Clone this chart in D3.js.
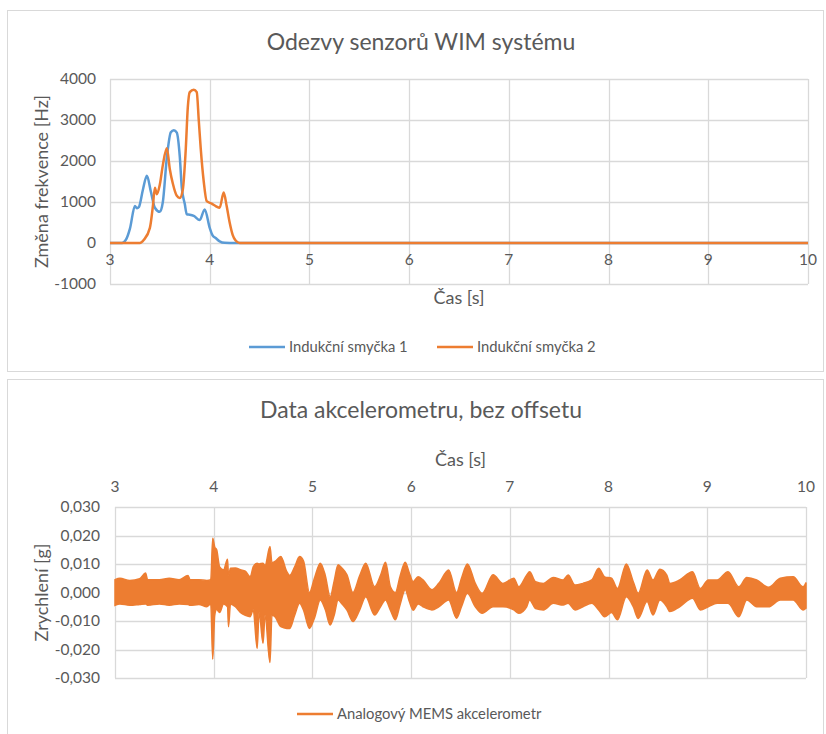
<!DOCTYPE html>
<html>
<head>
<meta charset="utf-8">
<script src="https://cdn.jsdelivr.net/npm/d3@7"></script>
<style>
  body { margin: 0; background: #fff; }
  text { font-family: Lato, "Open Sans", sans-serif; fill: #595959; }
</style>
</head>
<body>
<svg width="826" height="734"></svg>
<script>
// --- data: inductive loops (Hz) ---
const loop1Time = [3.00, 3.12, 3.16, 3.20, 3.25, 3.27, 3.29, 3.33, 3.37, 3.41, 3.45, 3.50, 3.53, 3.57, 3.61, 3.64, 3.67, 3.70, 3.72, 3.75, 3.77, 3.80, 3.84, 3.90, 3.95, 4.00, 4.03, 4.06, 4.10, 4.15, 4.25, 10.00];
const loop1Val  = [0, 0, 80, 350, 900, 850, 880, 1300, 1640, 1250, 860, 760, 1000, 2080, 2700, 2750, 2690, 2100, 1350, 950, 700, 690, 660, 560, 820, 370, 180, 120, 40, 5, 0, 0];

const loop2Time = [3.00, 3.30, 3.34, 3.40, 3.43, 3.45, 3.47, 3.50, 3.53, 3.57, 3.60, 3.63, 3.67, 3.70, 3.73, 3.76, 3.78, 3.80, 3.84, 3.87, 3.89, 3.91, 3.94, 3.97, 4.02, 4.06, 4.10, 4.14, 4.17, 4.20, 4.23, 4.26, 4.30, 10.00];
const loop2Val  = [0, 0, 80, 370, 900, 1350, 1190, 1430, 1900, 2310, 1800, 1450, 1150, 1100, 1300, 2300, 3300, 3680, 3740, 3680, 3000, 2300, 1500, 1020, 960, 900, 860, 1230, 900, 500, 200, 60, 0, 0];

const loopNames = ["Indukční smyčka 1", "Indukční smyčka 2"];
const loopTicks = [-1000, 0, 1000, 2000, 3000, 4000];

// --- data: accelerometer envelope (g) ---
const accTime = [3.00, 3.05, 3.15, 3.25, 3.31, 3.33, 3.45, 3.55, 3.65, 3.74, 3.76, 3.85, 3.93, 3.97, 3.99, 4.01, 4.03, 4.06, 4.10, 4.14, 4.15, 4.17, 4.22, 4.27, 4.32, 4.37, 4.40, 4.44, 4.46, 4.50, 4.52, 4.57, 4.59, 4.62, 4.68, 4.74, 4.77, 4.82, 4.87, 4.91, 4.97, 5.02, 5.08, 5.13, 5.18, 5.22, 5.26, 5.30, 5.35, 5.41, 5.48, 5.54, 5.63, 5.69, 5.74, 5.79, 5.84, 5.89, 5.94, 5.98, 6.02, 6.07, 6.12, 6.21, 6.28, 6.38, 6.46, 6.51, 6.57, 6.65, 6.72, 6.83, 6.93, 7.04, 7.09, 7.17, 7.20, 7.26, 7.34, 7.44, 7.54, 7.59, 7.66, 7.74, 7.83, 7.90, 7.96, 8.03, 8.09, 8.18, 8.25, 8.30, 8.39, 8.45, 8.52, 8.59, 8.62, 8.72, 8.85, 8.93, 9.01, 9.10, 9.21, 9.32, 9.40, 9.50, 9.62, 9.74, 9.87, 9.97, 10.00];
const accHigh = [0.0045, 0.0050, 0.0042, 0.0048, 0.0068, 0.0045, 0.0045, 0.0050, 0.0045, 0.0060, 0.0045, 0.0045, 0.0042, 0.0045, 0.0190, 0.0160, 0.0150, 0.0090, 0.0080, 0.0117, 0.0060, 0.0085, 0.0086, 0.0080, 0.0075, 0.0055, 0.0090, 0.0103, 0.0100, 0.0103, 0.0095, 0.0161, 0.0105, 0.0109, 0.0126, 0.0073, 0.0060, 0.0090, 0.0126, 0.0110, 0.0000, 0.0050, 0.0103, 0.0060, -0.0015, 0.0040, 0.0097, 0.0085, 0.0062, 0.0000, 0.0060, 0.0103, 0.0020, 0.0060, 0.0106, 0.0020, 0.0000, 0.0060, 0.0106, 0.0070, 0.0038, 0.0055, 0.0044, 0.0010, 0.0032, 0.0079, 0.0000, 0.0050, 0.0100, 0.0032, -0.0003, 0.0062, 0.0032, 0.0050, 0.0020, 0.0061, 0.0073, 0.0038, 0.0032, 0.0053, 0.0044, 0.0061, 0.0026, 0.0032, 0.0044, 0.0085, 0.0055, 0.0050, 0.0014, 0.0100, 0.0038, -0.0003, 0.0079, 0.0044, 0.0082, 0.0061, 0.0032, 0.0044, 0.0073, 0.0014, 0.0044, 0.0044, 0.0073, 0.0020, 0.0053, 0.0044, 0.0018, 0.0050, 0.0055, 0.0020, 0.0035];
const accLow  = [-0.0045, -0.0040, -0.0045, -0.0042, -0.0040, -0.0045, -0.0040, -0.0045, -0.0040, -0.0042, -0.0045, -0.0042, -0.0050, -0.0040, -0.0234, -0.0080, -0.0060, -0.0070, -0.0040, -0.0050, -0.0120, -0.0040, -0.0050, -0.0070, -0.0080, -0.0085, -0.0060, -0.0196, -0.0070, -0.0178, -0.0080, -0.0246, -0.0080, -0.0085, -0.0120, -0.0126, -0.0126, -0.0080, -0.0038, -0.0062, -0.0126, -0.0090, -0.0026, -0.0060, -0.0114, -0.0080, -0.0026, -0.0040, -0.0062, -0.0102, -0.0060, -0.0015, -0.0079, -0.0050, -0.0026, -0.0062, -0.0096, -0.0040, 0.0010, -0.0030, -0.0062, -0.0040, -0.0050, -0.0061, -0.0050, -0.0026, -0.0090, -0.0050, -0.0003, -0.0050, -0.0073, -0.0050, -0.0050, -0.0061, -0.0073, -0.0050, -0.0026, -0.0056, -0.0061, -0.0038, -0.0044, -0.0038, -0.0061, -0.0050, -0.0038, -0.0061, -0.0085, -0.0070, -0.0096, -0.0015, -0.0050, -0.0091, -0.0032, -0.0079, -0.0026, -0.0050, -0.0067, -0.0050, -0.0020, -0.0061, -0.0050, -0.0038, -0.0038, -0.0085, -0.0026, -0.0050, -0.0050, -0.0026, -0.0026, -0.0061, -0.0055];

const accName = "Analogový MEMS akcelerometr";
const accTicks = [-0.03, -0.02, -0.01, 0, 0.01, 0.02, 0.03];
const timeTicks = [3, 4, 5, 6, 7, 8, 9, 10];

const blue = "#5B9BD5", orange = "#ED7D31", grid = "#d9d9d9";
const cz = d3.formatLocale({ decimal: ",", thousands: " ", grouping: [3], currency: ["", " Kč"], minus: "-" });

const svg = d3.select("svg");

// panel frames
svg.append("rect").attr("x", 7.5).attr("y", 10.5).attr("width", 816).attr("height", 361)
  .attr("fill", "#fff").attr("stroke", grid);
svg.append("rect").attr("x", 7.5).attr("y", 379.5).attr("width", 816).attr("height", 360)
  .attr("fill", "#fff").attr("stroke", grid);

// ================= top chart =================
const x1 = d3.scaleLinear().domain([3, 10]).range([110, 808]);
const y1 = d3.scaleLinear().domain([-1000, 4000]).range([284, 79]);
const g1 = svg.append("g");

g1.append("g").selectAll("line").data(loopTicks).join("line")
  .attr("x1", x1(3)).attr("x2", x1(10))
  .attr("y1", d => Math.round(y1(d)) + 0.5).attr("y2", d => Math.round(y1(d)) + 0.5)
  .attr("stroke", grid).attr("stroke-width", 1.3);
g1.append("g").selectAll("line").data(timeTicks).join("line")
  .attr("x1", d => Math.round(x1(d)) + 0.5).attr("x2", d => Math.round(x1(d)) + 0.5)
  .attr("y1", y1(4000)).attr("y2", y1(-1000))
  .attr("stroke", grid).attr("stroke-width", 1.3);

g1.append("g").selectAll("text").data(loopTicks).join("text")
  .attr("x", 96).attr("y", d => y1(d)).attr("dy", "0.35em")
  .attr("text-anchor", "end").style("font-size", "15.5px")
  .text(d => d);
g1.append("g").selectAll("text").data(timeTicks).join("text")
  .attr("x", d => x1(d)).attr("y", y1(0) + 22)
  .attr("text-anchor", "middle").style("font-size", "15.5px")
  .text(d => d);

const line1 = d3.line().x(d => x1(d[0])).y(d => y1(d[1])).curve(d3.curveMonotoneX);
const loops = [d3.zip(loop1Time, loop1Val), d3.zip(loop2Time, loop2Val)];
g1.selectAll(".loop").data(loops).join("path")
  .attr("class", "loop")
  .attr("fill", "none")
  .attr("stroke", (d, i) => i === 0 ? blue : orange)
  .attr("stroke-width", 2.5)
  .attr("stroke-linejoin", "round")
  .attr("d", line1);

svg.append("text").attr("x", 421).attr("y", 50).attr("text-anchor", "middle")
  .style("font-size", "23px").text("Odezvy senzorů WIM systému");
svg.append("text").attr("x", (x1(3) + x1(10)) / 2).attr("y", 304).attr("text-anchor", "middle")
  .style("font-size", "18px").text("Čas [s]");
svg.append("text").attr("transform", "translate(48," + (y1(4000) + y1(-1000)) / 2 + ") rotate(-90)")
  .attr("text-anchor", "middle").style("font-size", "18px").text("Změna frekvence [Hz]");

// legend top
const leg1 = svg.append("g").selectAll("g").data(loopNames).join("g")
  .attr("transform", (d, i) => "translate(" + (249 + i * 188) + ",347)");
leg1.append("line").attr("x1", 0).attr("x2", 36)
  .attr("stroke", (d, i) => i === 0 ? blue : orange).attr("stroke-width", 2.5);
leg1.append("text").attr("x", 40).attr("dy", "0.35em").style("font-size", "14.8px").text(d => d);

// ================= bottom chart =================
const x2 = d3.scaleLinear().domain([3, 10]).range([115, 806]);
const y2 = d3.scaleLinear().domain([-0.03, 0.03]).range([678, 507]);
const g2 = svg.append("g");

g2.append("g").selectAll("line").data(accTicks).join("line")
  .attr("x1", x2(3)).attr("x2", x2(10))
  .attr("y1", d => Math.round(y2(d)) + 0.5).attr("y2", d => Math.round(y2(d)) + 0.5)
  .attr("stroke", grid).attr("stroke-width", 1.3);
g2.append("g").selectAll("line").data(timeTicks).join("line")
  .attr("x1", d => Math.round(x2(d)) + 0.5).attr("x2", d => Math.round(x2(d)) + 0.5)
  .attr("y1", y2(0.03)).attr("y2", y2(-0.03))
  .attr("stroke", grid).attr("stroke-width", 1.3);

const fmt = cz.format(".3f");
g2.append("g").selectAll("text").data(accTicks).join("text")
  .attr("x", 100).attr("y", d => y2(d)).attr("dy", "0.35em")
  .attr("text-anchor", "end").style("font-size", "15.5px")
  .text(d => fmt(d));
g2.append("g").selectAll("text").data(timeTicks).join("text")
  .attr("x", d => x2(d)).attr("y", 492)
  .attr("text-anchor", "middle").style("font-size", "15.5px")
  .text(d => d);

const acc = d3.range(accTime.length).map(i => ({ t: accTime[i], hi: accHigh[i], lo: accLow[i] }));
const band = d3.area().x(d => x2(d.t)).y0(d => y2(d.lo)).y1(d => y2(d.hi)).curve(d3.curveMonotoneX);
g2.append("path").datum(acc)
  .attr("fill", orange).attr("stroke", orange).attr("stroke-width", 1.5)
  .attr("stroke-linejoin", "miter")
  .attr("d", band);

svg.append("text").attr("x", 421).attr("y", 418).attr("text-anchor", "middle")
  .style("font-size", "23px").text("Data akcelerometru, bez offsetu");
svg.append("text").attr("x", (x2(3) + x2(10)) / 2).attr("y", 466).attr("text-anchor", "middle")
  .style("font-size", "18px").text("Čas [s]");
svg.append("text").attr("transform", "translate(48," + (y2(0.03) + y2(-0.03)) / 2 + ") rotate(-90)")
  .attr("text-anchor", "middle").style("font-size", "18px").text("Zrychlení [g]");

const leg2 = svg.append("g").attr("transform", "translate(297,714)");
leg2.append("line").attr("x1", 0).attr("x2", 36).attr("stroke", orange).attr("stroke-width", 2.5);
leg2.append("text").attr("x", 40).attr("dy", "0.35em").style("font-size", "14.8px").text(accName);
</script>
</body>
</html>
